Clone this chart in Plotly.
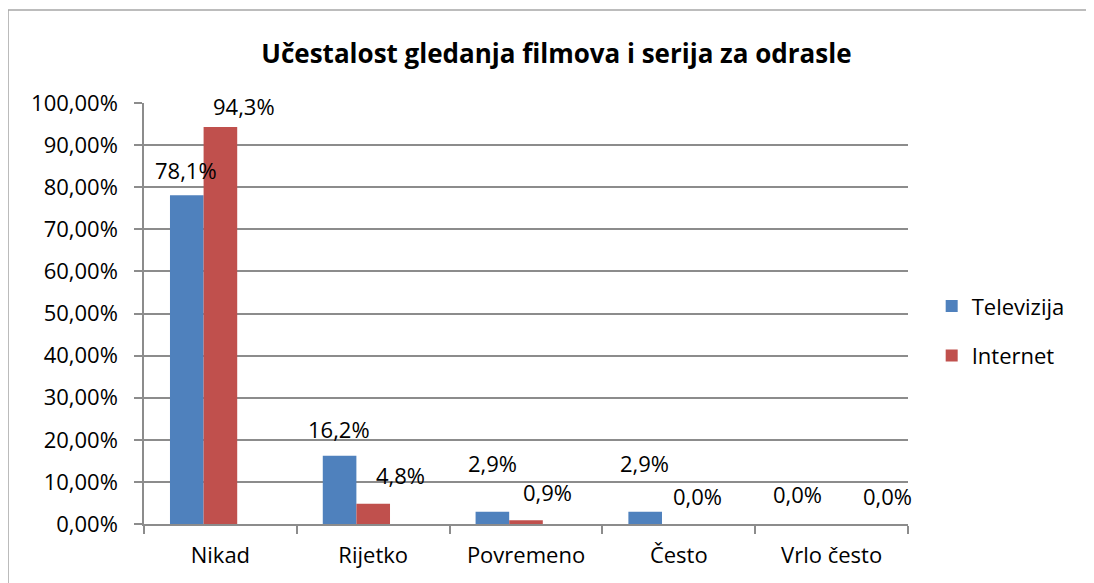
import plotly.graph_objects as go

categories = ['Nikad', 'Rijetko', 'Povremeno', 'Često', 'Vrlo često']
televizija = [78.1, 16.2, 2.9, 2.9, 0.0]
internet = [94.3, 4.8, 0.9, 0.0, 0.0]
y_ticks = [0, 10, 20, 30, 40, 50, 60, 70, 80, 90, 100]

# pomaci oznaka (px) - u originalu su ručno pomaknute
tv_dx = [-34, -34, -34, -34, -34]
tv_dy = [25, 27, 49, 49, 30]
net_dx = [24, 27, 21, 19, 56]
net_dy = [21, 29, 28, 28, 28]

FONT = 'Open Sans'
GRID = '#8c8c8c'


def fmt(v, dec=1):
    return f'{v:.{dec}f}'.replace('.', ',') + '%'


fig = go.Figure()
fig.add_trace(go.Bar(x=categories, y=televizija, name='Televizija', legendgroup='tv',
                     marker=dict(color='#4F81BD', line=dict(width=0)),
                     width=0.22, offset=-0.33))
fig.add_trace(go.Bar(x=categories, y=internet, name='Internet', legendgroup='net',
                     marker=dict(color='#C0504D', line=dict(width=0)),
                     width=0.22, offset=-0.11))

annotations = []
for vals, dxs, dys in [(televizija, tv_dx, tv_dy), (internet, net_dx, net_dy)]:
    for c, v, dx, dy in zip(categories, vals, dxs, dys):
        annotations.append(dict(x=c, y=v, xref='x', yref='y', text=fmt(v),
                                showarrow=False, xshift=dx, yshift=dy,
                                font=dict(family=FONT, size=22, color='black')))

# stranica ima 8px margine, pa je figura pomaknuta
fig.update_layout(
    width=1086, height=575,
    margin=dict(l=136, r=186, t=95, b=59),
    paper_bgcolor='white', plot_bgcolor='white',
    font=dict(family=FONT, size=22, color='black'),
    barmode='group',
    title=dict(text='<b>Učestalost gledanja filmova i serija za odrasle</b>',
               x=0.505, xanchor='center', y=0.92, yanchor='middle',
               font=dict(family=FONT, size=26, color='black')),
    showlegend=True,
    legend=dict(x=1.031, y=0.458, xanchor='left', yanchor='middle',
                traceorder='grouped', tracegroupgap=18,
                font=dict(family=FONT, size=22), itemwidth=30),
    annotations=annotations,
    shapes=[dict(type='rect', xref='paper', yref='paper',
                 x0=-0.178, x1=1.2395, y0=-0.3, y1=1.221,
                 line=dict(color='#a6a6a6', width=1.5), fillcolor='rgba(0,0,0,0)',
                 layer='below')],
)

fig.update_xaxes(type='category', range=[-0.5, 4.5],
                 showline=True, linecolor=GRID, linewidth=1.5,
                 ticks='outside', ticklen=8, tickcolor=GRID, tickwidth=1.5,
                 tickson='boundaries', showgrid=False, ticklabelstandoff=11)
fig.update_yaxes(range=[0, 100], tickvals=y_ticks, ticktext=[fmt(t, 2) for t in y_ticks],
                 showline=True, linecolor=GRID, linewidth=1.5,
                 ticks='outside', ticklen=8, tickcolor=GRID, tickwidth=1.5,
                 showgrid=True, gridcolor=GRID, gridwidth=1.5,
                 zeroline=False, ticklabelstandoff=12)

fig.write_html('out.html')
